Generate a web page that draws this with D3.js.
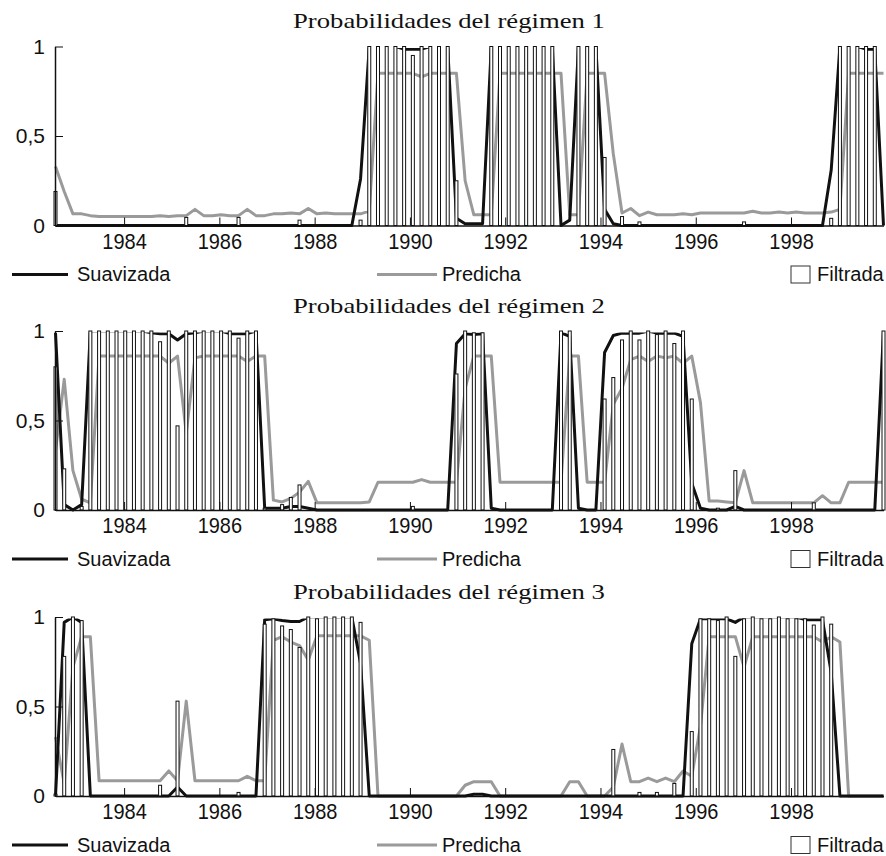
<!DOCTYPE html>
<html>
<head>
<meta charset="utf-8">
<script src="https://cdn.jsdelivr.net/npm/d3@7"></script>
<style>
  body { margin: 0; background: #fff; }
  svg text { font-family: "Liberation Sans", Arial, sans-serif; fill: #111; }
</style>
</head>
<body>
<div id="chart"></div>
<script>

// Observation dates: 96 points, decimal years
var tStart = 1982.56;
var tStep = 0.18296;

var titles = ["Probabilidades del régimen 1", "Probabilidades del régimen 2", "Probabilidades del régimen 3"];
var legendNames = ["Suavizada", "Predicha", "Filtrada"];
var yearTicks = [1984, 1986, 1988, 1990, 1992, 1994, 1996, 1998];
var probTicks = [0, 0.5, 1];

// Regimen 1
var filtrada1 = [0.19,0,0,0,0,0,0,0,0,0,
  0,0,0,0,0,0.045,0,0,0,0,
  0,0.045,0,0,0,0,0,0,0.03,0,
  0,0,0,0,0,0.03,1,1,1,1,
  1,0.95,1,1,1,1,0.25,0,0,0,
  1,1,1,1,1,1,1,1,0,0,
  1,1,1,0.38,0,0.05,0,0.02,0,0,
  0,0,0,0,0,0,0,0,0,0.02,
  0,0,0,0,0,0,0,0,0,0.04,
  1,1,1,1,1,0];
var suavizada1 = [0,0,0,0,0,0,0,0,0,0,
  0,0,0,0,0,0,0,0,0,0,
  0,0,0,0,0,0,0,0,0,0,
  0,0,0,0,0,0.26,1,1,1,1,
  0.985,0.985,0.985,1,1,1,0.04,0.01,0.01,0.01,
  1,1,1,1,1,1,1,1,0,0.03,
  1,1,1,0.09,0.01,0,0,0,0,0,
  0,0,0,0,0,0,0,0,0,0,
  0,0,0,0,0,0,0,0,0,0.31,
  1,1,1,0.985,0.985,0];
var predicha1 = [0.33,0.19,0.065,0.065,0.055,0.05,0.05,0.05,0.05,0.05,
  0.05,0.05,0.055,0.05,0.055,0.055,0.09,0.055,0.055,0.06,
  0.055,0.055,0.09,0.055,0.055,0.065,0.065,0.07,0.065,0.095,
  0.065,0.07,0.065,0.065,0.065,0.065,0.08,0.85,0.85,0.85,
  0.85,0.85,0.83,0.85,0.85,0.85,0.85,0.25,0.06,0.06,
  0.06,0.85,0.85,0.85,0.85,0.85,0.85,0.85,0.85,0.06,
  0.06,0.85,0.85,0.85,0.4,0.07,0.095,0.055,0.075,0.06,
  0.06,0.06,0.065,0.06,0.07,0.07,0.07,0.07,0.07,0.07,
  0.08,0.07,0.07,0.075,0.07,0.075,0.07,0.07,0.07,0.075,
  0.09,0.85,0.85,0.85,0.85,0.85];

// Regimen 2
var filtrada2 = [0.8,0.23,0,0.02,1,1,1,1,1,1,
  1,1,0.94,1,0.47,1,1,1,1,1,
  1,0.96,1,1,0.01,0,0.03,0.07,0.14,0,
  0,0,0,0,0,0,0,0,0,0,
  0,0.02,0,0,0,0,0.76,1,0.99,0.99,
  0,0,0,0,0,0,0,0,1,1,
  0,0,0,0.62,0.74,0.95,1,0.95,1,0.98,
  1,0.93,1,0.62,0,0,0.01,0,0.22,0,
  0,0,0,0,0,0,0,0.04,0,0,
  0,0,0,0,0,1];
var suavizada2 = [0.99,0.03,0,0.03,1,1,1,1,1,1,
  1,0.99,0.985,0.985,0.95,0.985,0.99,1,1,1,
  0.985,0.985,0.985,1,0.01,0.01,0.01,0.02,0.02,0.01,
  0,0,0,0,0,0,0,0,0,0,
  0,0,0,0,0,0,0.93,0.985,0.98,0.985,
  0.01,0,0,0,0,0,0,0,0.99,0.97,
  0.01,0,0,0.88,0.975,0.988,0.988,0.988,1,0.988,
  0.988,0.988,0.97,0.15,0.01,0,0,0,0.02,0,
  0,0,0,0,0,0,0,0,0,0,
  0,0,0,0,0,1];
var predicha2 = [0.33,0.73,0.22,0.06,0.04,0.86,0.86,0.86,0.86,0.86,
  0.86,0.86,0.86,0.82,0.86,0.43,0.85,0.86,0.86,0.86,
  0.86,0.86,0.83,0.86,0.86,0.055,0.045,0.065,0.1,0.16,
  0.04,0.04,0.04,0.04,0.04,0.04,0.045,0.155,0.155,0.155,
  0.155,0.155,0.17,0.155,0.155,0.155,0.155,0.68,0.86,0.86,
  0.86,0.155,0.155,0.155,0.155,0.155,0.155,0.155,0.155,0.86,
  0.86,0.155,0.155,0.155,0.59,0.68,0.84,0.86,0.83,0.86,
  0.85,0.86,0.82,0.86,0.6,0.05,0.05,0.045,0.04,0.22,
  0.04,0.04,0.04,0.04,0.04,0.04,0.04,0.04,0.08,0.04,
  0.04,0.155,0.155,0.155,0.155,0.155];

// Regimen 3
var filtrada3 = [0.01,0.78,1,0.98,0,0,0,0,0,0,
  0,0,0.06,0,0.53,0,0,0,0,0,
  0,0.02,0,0,0.96,0.99,0.95,0.93,0.83,1,
  0.99,1,1,1,1,0.97,0,0,0,0,
  0,0,0,0,0,0,0,0,0,0,
  0,0,0,0,0,0,0,0,0,0,
  0,0,0,0,0.26,0,0,0.02,0,0.02,
  0,0.07,0,0.36,0.99,0.99,0.98,1,0.78,0.99,
  1,0.99,0.99,1,0.99,0.99,0.99,0.955,1,0.96,
  0,0,0,0,0,0];
var suavizada3 = [0,0.97,1,0.97,0,0,0,0,0,0,
  0,0,0,0,0.05,0,0,0,0,0,
  0,0,0,0,0.985,0.99,0.98,0.975,0.975,1,
  1,1,1,1,1,0.74,0,0,0,0,
  0,0,0,0,0,0,0,0,0.01,0.01,
  0,0,0,0,0,0,0,0,0,0,
  0,0,0,0,0,0,0,0,0,0,
  0,0,0,0.85,0.99,0.99,0.99,0.99,0.97,1,
  1,1,1,1,1,1,0.985,0.985,0.985,0.69,
  0,0,0,0,0,0];
var predicha3 = [0.33,0.07,0.72,0.89,0.89,0.085,0.085,0.085,0.085,0.085,
  0.085,0.085,0.085,0.14,0.085,0.53,0.085,0.085,0.085,0.085,
  0.085,0.085,0.11,0.085,0.085,0.87,0.89,0.86,0.84,0.76,
  0.895,0.895,0.895,0.895,0.895,0.895,0.87,0,0,0,
  0,0,0,0,0,0,0,0.06,0.08,0.08,
  0.08,0,0,0,0,0,0,0,0,0.08,
  0.08,0,0,0,0.05,0.29,0.08,0.08,0.1,0.08,
  0.1,0.08,0.14,0.11,0.39,0.89,0.89,0.89,0.89,0.72,
  0.89,0.89,0.89,0.89,0.89,0.89,0.89,0.89,0.86,0.89,
  0.86,0,0,0,0,0];

//Config
var black = "#111111";
var gray = "#9a9a9a";
var panelTop = [46.5, 331, 617];
var panelHeight = 179;
var barWidth = 3;
var titleWidth = 312;

var svg = d3.select("#chart").append("svg")
  .attr("width", 886)
  .attr("height", 856);

var x = d3.scaleLinear()
  .domain([tStart, tStart + 95 * tStep])
  .range([55.5, 883.5]);

var comma = d3.formatLocale({decimal: ",", thousands: ".", grouping: [3], currency: ["", ""]}).format("~g");

function drawPanel(k, filt, suav, pred) {
  var top = panelTop[k];
  var bottom = top + panelHeight;
  var dates = filt.map(function(d, i) { return tStart + i * tStep; });

  var y = d3.scaleLinear().domain([0, 1]).range([bottom, top]);
  var g = svg.append("g").attr("class", "panel");

  // lines sitting exactly on 1 get cut by the box, like the original
  g.append("clipPath").attr("id", "clip" + k)
    .append("rect")
    .attr("x", 50).attr("y", top + 1.5)
    .attr("width", 840).attr("height", panelHeight + 2.5);

  var line = d3.line()
    .x(function(d, i) { return x(dates[i]); })
    .y(function(d) { return y(d); });

  var lines = g.append("g").attr("clip-path", "url(#clip" + k + ")");

  lines.append("path")
    .datum(pred)
    .attr("d", line)
    .attr("fill", "none")
    .attr("stroke", gray)
    .attr("stroke-width", 3)
    .attr("stroke-linejoin", "round");

  lines.append("path")
    .datum(suav)
    .attr("d", line)
    .attr("fill", "none")
    .attr("stroke", black)
    .attr("stroke-width", 3)
    .attr("stroke-linejoin", "round");

  g.selectAll(".bar")
    .data(filt)
    .enter()
    .append("rect")
    .attr("class", "bar")
    .attr("x", function(d, i) { return x(dates[i]) - barWidth / 2; })
    .attr("y", function(d) { return y(d); })
    .attr("width", barWidth)
    .attr("height", function(d) { return bottom - y(d); })
    .attr("fill", "#fff")
    .attr("stroke", black)
    .attr("stroke-width", 1);

  // axes, ticks point inwards
  var yAxis = d3.axisLeft(y)
    .tickValues(probTicks)
    .tickFormat(comma)
    .tickSizeInner(-8)
    .tickSizeOuter(0)
    .tickPadding(10);
  var xAxis = d3.axisBottom(x)
    .tickValues(yearTicks)
    .tickFormat(d3.format("d"))
    .tickSizeInner(-8)
    .tickSizeOuter(0)
    .tickPadding(8);

  var ga = g.append("g").attr("transform", "translate(55,0)").call(yAxis);
  var gb = g.append("g").attr("transform", "translate(0," + bottom + ")").call(xAxis);
  [ga, gb].forEach(function(a) {
    a.select(".domain").attr("stroke", black).attr("stroke-width", 1.5);
    a.selectAll(".tick line").attr("stroke", black);
    a.selectAll("text")
      .attr("fill", black)
      .style("font-family", "'Liberation Sans', Arial, sans-serif")
      .style("font-size", "20px");
  });
  ga.selectAll("text").style("font-size", "21px");
  gb.selectAll("text").attr("y", 7).attr("transform", "scale(1,1.1)");

  // title, stretched to the width of the original
  var t = g.append("text")
    .style("font-family", "'Liberation Serif', 'Times New Roman', serif")
    .style("font-size", "21px")
    .text(titles[k]);
  var w = t.node().getComputedTextLength();
  t.attr("transform", "translate(293," + (top - 18.5) + ") scale(" + (titleWidth / w) + ",1)");

  // legend
  var ly = bottom + 49;
  var legendX = [77, 442, 817];
  g.append("line")
    .attr("x1", 12).attr("x2", 68).attr("y1", ly).attr("y2", ly)
    .attr("stroke", black).attr("stroke-width", 3);
  g.append("line")
    .attr("x1", 377).attr("x2", 437).attr("y1", ly).attr("y2", ly)
    .attr("stroke", gray).attr("stroke-width", 3);
  g.append("rect")
    .attr("x", 791).attr("y", ly - 8.5).attr("width", 19).attr("height", 17)
    .attr("fill", "#fff").attr("stroke", "#333").attr("stroke-width", 1);

  g.selectAll(".legend-label")
    .data(legendNames)
    .enter()
    .append("text")
    .attr("class", "legend-label")
    .attr("x", function(d, i) { return legendX[i]; })
    .attr("y", ly + 6.5)
    .style("font-size", "20px")
    .text(function(d) { return d; });
}

drawPanel(0, filtrada1, suavizada1, predicha1);
drawPanel(1, filtrada2, suavizada2, predicha2);
drawPanel(2, filtrada3, suavizada3, predicha3);

</script>
</body>
</html>
